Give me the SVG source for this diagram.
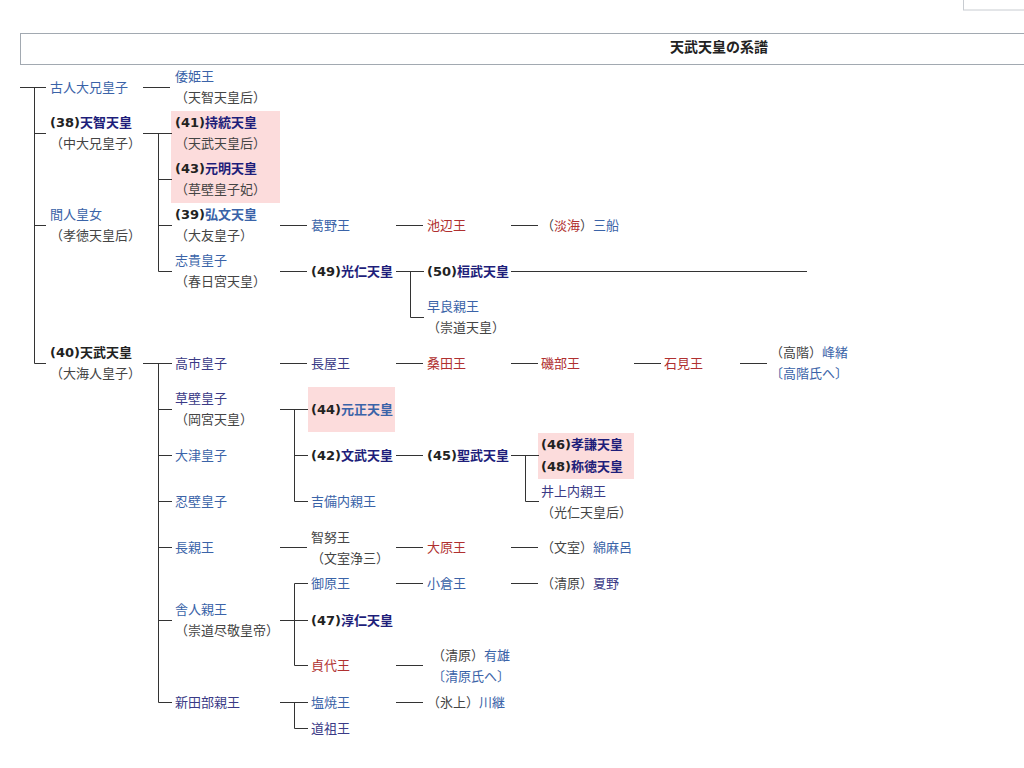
<svg xmlns="http://www.w3.org/2000/svg" width="1024" height="768" viewBox="0 0 1024 768">
<style>
text{font-family:"DejaVu Sans","Noto Sans CJK JP","Noto Sans CJK SC",sans-serif;font-size:13px}
.b{font-weight:bold}
.blue{fill:#3a63a8}
.navy{fill:#1e1e7a}
.vis{fill:#3a3a86}
.red{fill:#b03030}
.gray{fill:#444}
.blk{fill:#222}
.pink{fill:#fcdcdc}
.ln{fill:none;stroke:#333;stroke-width:1}
</style>
<rect width="1024" height="768" fill="#fff"/>
<rect x="963.5" y="-2" width="70" height="12" fill="#fff" stroke="#c8ccd1"/>
<g id="header">
<rect x="20.5" y="33.5" width="1020" height="31" fill="#fff" stroke="#a2a9b1"/>
<text x="719" y="52" text-anchor="middle" class="b blk" style="font-size:14px">天武天皇の系譜</text>
</g>
<g id="highlights">
<rect class="pink" x="171" y="111" width="109" height="92"/>
<rect class="pink" x="308" y="387" width="87" height="45"/>
<rect class="pink" x="538" y="433" width="96" height="46"/>
</g>
<g id="connectors">
<path class="ln" d="M20 87.5H46M34.5 87.5V363.5H46M34.5 133.5H46M34.5 225.5H46"/>
<path class="ln" d="M143 87.5H170"/>
<path class="ln" d="M143 133.5H172M158.5 133.5V271.5H172M158.5 179.5H172M158.5 225.5H172"/>
<path class="ln" d="M280 225.5H307M396 225.5H423M511 225.5H538"/>
<path class="ln" d="M280 271.5H307M396 271.5H424M410.5 271.5V317.5H424M511 271.5H807"/>
<path class="ln" d="M143 363.5H172M158.5 363.5V702.5H172M158.5 409.5H172M158.5 455.5H172M158.5 501.5H172M158.5 547.5H172M158.5 620.5H172"/>
<path class="ln" d="M280 363.5H307M396 363.5H423M511 363.5H538M634 363.5H661M740 363.5H767"/>
<path class="ln" d="M280 409.5H308M294.5 409.5V501.5H308M294.5 455.5H308"/>
<path class="ln" d="M396 455.5H423M511 455.5H539M525.5 455.5V501.5H539"/>
<path class="ln" d="M280 547.5H307M396 547.5H423M511 547.5H538"/>
<path class="ln" d="M280 620.5H308M294.5 583.5H308M294.5 583.5V665.5H308"/>
<path class="ln" d="M396 583.5H423M511 583.5H538M396 665.5H423"/>
<path class="ln" d="M280 702.5H308M294.5 702.5V728.5H308M396 702.5H423"/>
</g>
<g id="furuhito"><text x="50" y="92" class="blue">古人大兄皇子</text></g>
<g id="tenji"><text x="50" y="127" class="b blk">(38)<tspan class="navy">天智天皇</tspan></text><text x="50" y="148" class="gray">（中大兄皇子）</text></g>
<g id="hashihito"><text x="50" y="219" class="blue">間人皇女</text><text x="50" y="240" class="gray">（孝徳天皇后）</text></g>
<g id="tenmu"><text x="50" y="357" class="b blk">(40)天武天皇</text><text x="50" y="378" class="gray">（大海人皇子）</text></g>
<g id="yamatohime"><text x="175" y="81" class="blue">倭姫王</text><text x="175" y="102" class="gray">（天智天皇后）</text></g>
<g id="jito"><text x="175" y="127" class="b blk">(41)<tspan class="navy">持統天皇</tspan></text><text x="175" y="148" class="gray">（天武天皇后）</text></g>
<g id="genmei"><text x="175" y="173" class="b blk">(43)<tspan class="navy">元明天皇</tspan></text><text x="175" y="194" class="gray">（草壁皇子妃）</text></g>
<g id="kobun"><text x="175" y="219" class="b blk">(39)<tspan class="blue">弘文天皇</tspan></text><text x="175" y="240" class="gray">（大友皇子）</text></g>
<g id="shiki"><text x="175" y="265" class="blue">志貴皇子</text><text x="175" y="286" class="gray">（春日宮天皇）</text></g>
<g id="kadono"><text x="311" y="230" class="blue">葛野王</text></g>
<g id="ikebe"><text x="427" y="230" class="red">池辺王</text></g>
<g id="mifune"><text x="541" y="230" class="gray">（<tspan class="red">淡海</tspan>）<tspan class="blue">三船</tspan></text></g>
<g id="konin"><text x="311" y="276" class="b blk">(49)<tspan class="navy">光仁天皇</tspan></text></g>
<g id="kanmu"><text x="427" y="276" class="b blk">(50)<tspan class="navy">桓武天皇</tspan></text></g>
<g id="sawara"><text x="427" y="311" class="blue">早良親王</text><text x="427" y="332" class="gray">（崇道天皇）</text></g>
<g id="takechi"><text x="175" y="368" class="vis">高市皇子</text></g>
<g id="nagaya"><text x="311" y="368" class="vis">長屋王</text></g>
<g id="kuwata"><text x="427" y="368" class="red">桑田王</text></g>
<g id="isobe"><text x="541" y="368" class="red">磯部王</text></g>
<g id="iwami"><text x="664" y="368" class="red">石見王</text></g>
<g id="mineo"><text x="770" y="357" class="gray">（高階）<tspan class="blue">峰緒</tspan></text><text x="770" y="378" class="blue">〔高階氏へ〕</text></g>
<g id="kusakabe"><text x="175" y="403" class="vis">草壁皇子</text><text x="175" y="424" class="gray">（岡宮天皇）</text></g>
<g id="gensho"><text x="311" y="414" class="b blk">(44)<tspan class="blue">元正天皇</tspan></text></g>
<g id="otsu"><text x="175" y="460" class="blue">大津皇子</text></g>
<g id="monmu"><text x="311" y="460" class="b blk">(42)<tspan class="navy">文武天皇</tspan></text></g>
<g id="shomu"><text x="427" y="460" class="b blk">(45)<tspan class="navy">聖武天皇</tspan></text></g>
<g id="koken"><text x="541" y="449" class="b blk">(46)<tspan class="navy">孝謙天皇</tspan></text><text x="541" y="471" class="b blk">(48)<tspan class="navy">称徳天皇</tspan></text></g>
<g id="inoue"><text x="541" y="496" class="vis">井上内親王</text><text x="541" y="517" class="gray">（光仁天皇后）</text></g>
<g id="osakabe"><text x="175" y="506" class="blue">忍壁皇子</text></g>
<g id="kibi"><text x="311" y="506" class="blue">吉備内親王</text></g>
<g id="naga"><text x="175" y="552" class="blue">長親王</text></g>
<g id="chinu"><text x="311" y="542" class="gray">智努王</text><text x="311" y="563" class="gray">（文室浄三）</text></g>
<g id="ohara"><text x="427" y="552" class="red">大原王</text></g>
<g id="watamaro"><text x="541" y="552" class="gray">（文室）<tspan class="blue">綿麻呂</tspan></text></g>
<g id="toneri"><text x="175" y="614" class="blue">舎人親王</text><text x="175" y="635" class="gray">（崇道尽敬皇帝）</text></g>
<g id="mihara"><text x="311" y="588" class="blue">御原王</text></g>
<g id="ogura"><text x="427" y="588" class="blue">小倉王</text></g>
<g id="natsuno"><text x="541" y="588" class="gray">（清原）<tspan class="vis">夏野</tspan></text></g>
<g id="junnin"><text x="311" y="625" class="b blk">(47)<tspan class="navy">淳仁天皇</tspan></text></g>
<g id="sadashiro"><text x="311" y="670" class="red">貞代王</text></g>
<g id="ario"><text x="432" y="660" class="gray">（清原）<tspan class="blue">有雄</tspan></text><text x="432" y="681" class="blue">〔清原氏へ〕</text></g>
<g id="niitabe"><text x="175" y="707" class="vis">新田部親王</text></g>
<g id="shioyaki"><text x="311" y="707" class="blue">塩焼王</text></g>
<g id="funado"><text x="311" y="733" class="vis">道祖王</text></g>
<g id="kawatsugu"><text x="427" y="707" class="gray">（氷上）<tspan class="blue">川継</tspan></text></g>
</svg>
